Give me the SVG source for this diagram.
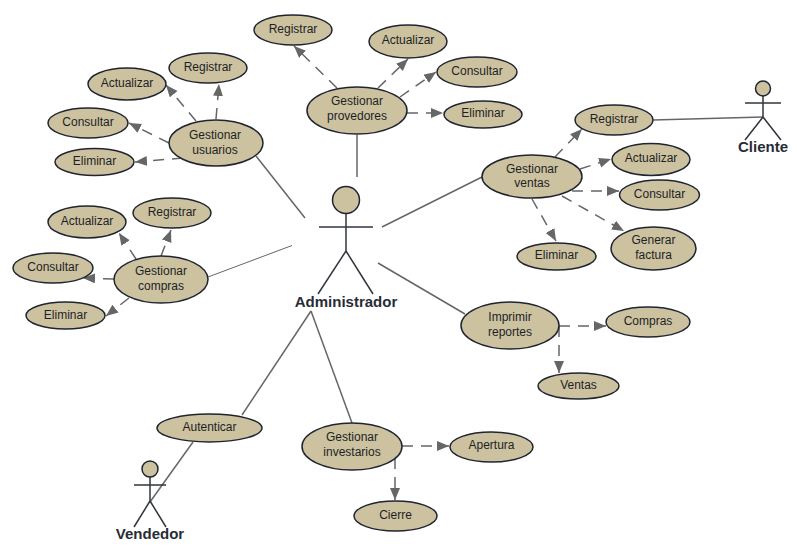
<svg xmlns="http://www.w3.org/2000/svg" width="798" height="548" viewBox="0 0 798 548">
<style>
.n ellipse{fill:#cdc29f;stroke:#1f2430;stroke-width:1.5}
.n text{font:12px "Liberation Sans",Arial,sans-serif;fill:#1c1f26;text-anchor:middle}
.a line,.a circle{stroke:#30343c;stroke-width:1.5;fill:none}
.a circle{fill:#cdc29f;stroke:#1f2430}
.a text{font:bold 15px "Liberation Sans",Arial,sans-serif;fill:#282c36;text-anchor:middle}
.s line{stroke:#666;stroke-width:1.5;fill:none}
.d line{stroke:#666;stroke-width:1.5;stroke-dasharray:11 8;fill:none;marker-end:url(#h)}
</style>
<defs><marker id="h" markerUnits="userSpaceOnUse" markerWidth="13" markerHeight="11" refX="12" refY="5" orient="auto"><path d="M0 0L12 5L0 10Z" fill="#666"/></marker></defs>
<g id="connectors">
<g class="s">
<line x1="256" y1="156" x2="305" y2="218"/>
<line x1="357" y1="135" x2="357" y2="177"/>
<line x1="208" y1="277" x2="292" y2="245.500" style="stroke-width:1"/>
<line x1="482" y1="177" x2="382" y2="227"/>
<line x1="378" y1="263" x2="465" y2="314"/>
<line x1="311" y1="311" x2="242" y2="415"/>
<line x1="311" y1="311" x2="352" y2="423"/>
<line x1="193" y1="442" x2="150" y2="502"/>
<line x1="653" y1="120" x2="763" y2="117"/>
</g>
<g class="d">
<line x1="337" y1="88" x2="294" y2="46"/>
<line x1="378" y1="88" x2="408" y2="59"/>
<line x1="400" y1="97" x2="436" y2="72"/>
<line x1="407" y1="113" x2="443" y2="113"/>
<line x1="216" y1="119" x2="219" y2="84"/>
<line x1="196" y1="121" x2="166" y2="85"/>
<line x1="169" y1="143" x2="129" y2="123"/>
<line x1="183" y1="158" x2="135" y2="162"/>
<line x1="161" y1="256" x2="171" y2="230"/>
<line x1="136" y1="259" x2="119" y2="233"/>
<line x1="114" y1="279" x2="83" y2="278"/>
<line x1="129" y1="298" x2="106" y2="316"/>
<line x1="555" y1="157" x2="582" y2="129"/>
<line x1="580" y1="169" x2="611" y2="159"/>
<line x1="572" y1="191" x2="619" y2="191"/>
<line x1="562" y1="196" x2="624" y2="231"/>
<line x1="532" y1="199" x2="556" y2="241"/>
<line x1="559" y1="326" x2="606" y2="326"/>
<line x1="559" y1="326" x2="559" y2="373"/>
<line x1="402" y1="446" x2="449" y2="446"/>
<line x1="395" y1="458" x2="395" y2="500"/>
</g>
</g>
<g id="prov" class="n"><ellipse cx="357" cy="110.500" rx="50" ry="23.500"/><text x="357" y="105">Gestionar</text><text x="357" y="120">provedores</text></g>
<g id="prov-reg" class="n"><ellipse cx="293" cy="30" rx="39" ry="15"/><text x="293" y="33">Registrar</text></g>
<g id="prov-act" class="n"><ellipse cx="408" cy="41.500" rx="39" ry="16.500"/><text x="408" y="44">Actualizar</text></g>
<g id="prov-con" class="n"><ellipse cx="477" cy="72" rx="40" ry="15"/><text x="477" y="75">Consultar</text></g>
<g id="prov-eli" class="n"><ellipse cx="483" cy="114.500" rx="39" ry="13.500"/><text x="483" y="117">Eliminar</text></g>
<g id="usu" class="n"><ellipse cx="216" cy="143" rx="47" ry="23"/><text x="215" y="139">Gestionar</text><text x="215" y="153.500">usuarios</text></g>
<g id="usu-reg" class="n"><ellipse cx="208" cy="68" rx="39" ry="15"/><text x="208" y="70.500">Registrar</text></g>
<g id="usu-act" class="n"><ellipse cx="127" cy="84" rx="39" ry="16"/><text x="127" y="87">Actualizar</text></g>
<g id="usu-con" class="n"><ellipse cx="88" cy="123" rx="40" ry="15"/><text x="88" y="125.500">Consultar</text></g>
<g id="usu-eli" class="n"><ellipse cx="94.500" cy="162" rx="39.500" ry="13.500"/><text x="94.500" y="165">Eliminar</text></g>
<g id="com" class="n"><ellipse cx="161" cy="279.500" rx="47" ry="23.500"/><text x="161" y="275">Gestionar</text><text x="161" y="290">compras</text></g>
<g id="com-reg" class="n"><ellipse cx="172" cy="213" rx="39" ry="15"/><text x="172" y="216">Registrar</text></g>
<g id="com-act" class="n"><ellipse cx="87" cy="222" rx="39" ry="16"/><text x="87" y="224.500">Actualizar</text></g>
<g id="com-con" class="n"><ellipse cx="53" cy="268" rx="40" ry="15"/><text x="53" y="271">Consultar</text></g>
<g id="com-eli" class="n"><ellipse cx="65.500" cy="315.500" rx="39.500" ry="13.500"/><text x="65.500" y="319">Eliminar</text></g>
<g id="ven" class="n"><ellipse cx="532" cy="176.500" rx="50" ry="21.500"/><text x="532" y="173">Gestionar</text><text x="532" y="187">ventas</text></g>
<g id="ven-reg" class="n"><ellipse cx="614" cy="120" rx="39" ry="15"/><text x="614" y="122.500">Registrar</text></g>
<g id="ven-act" class="n"><ellipse cx="651" cy="159.500" rx="39" ry="16"/><text x="651" y="162">Actualizar</text></g>
<g id="ven-con" class="n"><ellipse cx="659.500" cy="195" rx="40" ry="15"/><text x="659.500" y="198">Consultar</text></g>
<g id="ven-eli" class="n"><ellipse cx="556.500" cy="256.500" rx="39.500" ry="13.500"/><text x="556.500" y="259">Eliminar</text></g>
<g id="ven-fac" class="n"><ellipse cx="653.500" cy="248.500" rx="42.500" ry="21.500"/><text x="653.500" y="244">Generar</text><text x="653.500" y="259">factura</text></g>
<g id="imp" class="n"><ellipse cx="510" cy="325.500" rx="49" ry="23.500"/><text x="510" y="321">Imprimir</text><text x="510" y="336">reportes</text></g>
<g id="imp-com" class="n"><ellipse cx="648" cy="322" rx="42" ry="15"/><text x="648" y="325">Compras</text></g>
<g id="imp-ven" class="n"><ellipse cx="578.500" cy="386" rx="40.500" ry="13"/><text x="578.500" y="389">Ventas</text></g>
<g id="aut" class="n"><ellipse cx="209.500" cy="428" rx="52.500" ry="14"/><text x="209.500" y="431">Autenticar</text></g>
<g id="inv" class="n"><ellipse cx="352" cy="446.500" rx="50" ry="23.500"/><text x="352" y="441">Gestionar</text><text x="352" y="456">investarios</text></g>
<g id="inv-ape" class="n"><ellipse cx="491.500" cy="447" rx="41.500" ry="15"/><text x="491.500" y="449">Apertura</text></g>
<g id="inv-cie" class="n"><ellipse cx="395.500" cy="516" rx="41.500" ry="15"/><text x="395.500" y="519">Cierre</text></g>
<g id="administrador" class="a"><line x1="346" y1="214" x2="346" y2="251"/><line x1="319" y1="227" x2="373" y2="227"/><line x1="346" y1="251" x2="318" y2="294"/><line x1="346" y1="251" x2="373" y2="294"/><circle cx="346" cy="200" r="13.500"/><text x="346" y="307">Administrador</text></g>
<g id="cliente" class="a"><line x1="763" y1="96" x2="763" y2="117"/><line x1="745" y1="103" x2="781" y2="103"/><line x1="763" y1="117" x2="745" y2="140"/><line x1="763" y1="117" x2="781" y2="140"/><circle cx="763" cy="88.500" r="7.500"/><text x="763" y="152">Cliente</text></g>
<g id="vendedor" class="a"><line x1="150" y1="477" x2="150" y2="501"/><line x1="134" y1="485" x2="166" y2="485"/><line x1="150" y1="501" x2="134" y2="527"/><line x1="150" y1="501" x2="166" y2="527"/><circle cx="150" cy="469" r="8"/><text x="150" y="539">Vendedor</text></g>
</svg>
